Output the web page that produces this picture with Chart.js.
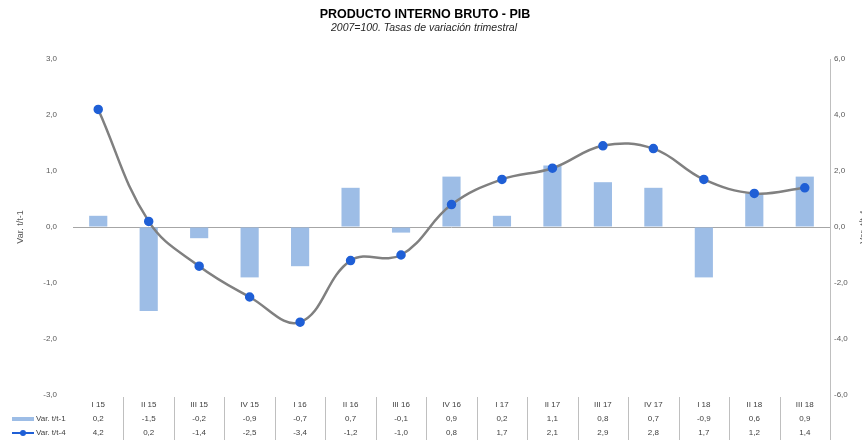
<!DOCTYPE html>
<html>
<head>
<meta charset="utf-8">
<script src="https://cdn.jsdelivr.net/npm/chart.js@4"></script>
<style>
  html, body { margin: 0; padding: 0; background: #fff; }
  #wrap { width: 862px; height: 440px; }
</style>
</head>
<body>
<div id="wrap"><canvas id="grafico-pib" width="862" height="440"></canvas></div>
<script>
// datos
const trimestres = ['I 15', 'II 15', 'III 15', 'IV 15', 'I 16', 'II 16', 'III 16', 'IV 16', 'I 17', 'II 17', 'III 17', 'IV 17', 'I 18', 'II 18', 'III 18'];
const varT1 = [0.2, -1.5, -0.2, -0.9, -0.7, 0.7, -0.1, 0.9, 0.2, 1.1, 0.8, 0.7, -0.9, 0.6, 0.9];
const varT4 = [4.2, 0.2, -1.4, -2.5, -3.4, -1.2, -1.0, 0.8, 1.7, 2.1, 2.9, 2.8, 1.7, 1.2, 1.4];
const titulo = 'PRODUCTO INTERNO BRUTO - PIB';
const subtitulo = '2007=100. Tasas de variación trimestral';
const nombres = ['Var. t/t-1', 'Var. t/t-4'];

const fuente = '"Liberation Sans", Arial, sans-serif';
const gris = '#595959';
const coma = (v) => v.toFixed(1).replace('.', ',');

const textosPlugin = {
    id: 'textos',
    afterDraw(chart) {
        const ctx = chart.ctx;
        const x = chart.scales.x;
        const area = chart.chartArea;
        ctx.save();

        // título y subtítulo
        ctx.fillStyle = '#000';
        ctx.textAlign = 'center';
        ctx.textBaseline = 'middle';
        ctx.font = 'bold 12.5px ' + fuente;
        ctx.fillText(titulo, 425, 15);
        ctx.font = 'italic 10.5px ' + fuente;
        ctx.fillStyle = '#262626';
        ctx.fillText(subtitulo, 424, 28);

        // títulos de ejes
        ctx.fillStyle = gris;
        ctx.font = '9px ' + fuente;
        ctx.save();
        ctx.translate(21, 227);
        ctx.rotate(-Math.PI / 2);
        ctx.fillText(nombres[0], 0, 0);
        ctx.restore();
        ctx.save();
        ctx.translate(864, 227);
        ctx.rotate(-Math.PI / 2);
        ctx.fillText(nombres[1], 0, 0);
        ctx.restore();

        // tabla de datos
        const filas = [405, 419, 433];
        const ancho = (x.getPixelForValue(1) - x.getPixelForValue(0));
        ctx.strokeStyle = '#bfbfbf';
        ctx.lineWidth = 1;
        for (let i = 1; i <= trimestres.length; i++) {
            const xb = Math.round(x.getPixelForValue(i) - ancho / 2) + 0.5;
            ctx.beginPath();
            ctx.moveTo(xb, i === trimestres.length ? area.top : 397);
            ctx.lineTo(xb, 440);
            ctx.stroke();
        }
        ctx.font = '8px ' + fuente;
        ctx.fillStyle = '#404040';
        trimestres.forEach((t, i) => {
            const xc = x.getPixelForValue(i);
            ctx.fillText(t, xc, filas[0]);
            ctx.fillText(coma(varT1[i]), xc, filas[1]);
            ctx.fillText(coma(varT4[i]), xc, filas[2]);
        });

        // leyenda dentro de la tabla
        ctx.fillStyle = '#9dbde6';
        ctx.fillRect(12, filas[1] - 2, 22, 4);
        ctx.strokeStyle = '#1f5fd6';
        ctx.lineWidth = 2;
        ctx.beginPath();
        ctx.moveTo(12, filas[2]);
        ctx.lineTo(34, filas[2]);
        ctx.stroke();
        ctx.fillStyle = '#1f5fd6';
        ctx.beginPath();
        ctx.arc(23, filas[2], 3, 0, Math.PI * 2);
        ctx.fill();
        ctx.textAlign = 'left';
        ctx.fillStyle = '#404040';
        ctx.fillText(nombres[0], 36, filas[1]);
        ctx.fillText(nombres[1], 36, filas[2]);

        ctx.restore();
    }
};

const ctx = document.getElementById('grafico-pib').getContext('2d');
const graficoPib = new Chart(ctx, {
    data: {
        labels: trimestres,
        datasets: [
            {
                type: 'line', label: nombres[1], data: varT4, yAxisID: 'y1', order: 0,
                borderColor: '#808080', borderWidth: 2.5, tension: 0.4,
                pointBackgroundColor: '#1f5fd6', pointBorderColor: '#1f5fd6', pointRadius: 3.5
            },
            {
                type: 'bar', label: nombres[0], data: varT1, yAxisID: 'y', order: 1,
                backgroundColor: '#9dbde6', barPercentage: 0.72, categoryPercentage: 0.5
            }
        ]
    },
    options: {
        responsive: false, animation: false,
        layout: { padding: { top: 59, bottom: 45, left: 0, right: 0 } },
        plugins: { legend: { display: false }, title: { display: false }, tooltip: { enabled: false } },
        scales: {
            x: { display: false, offset: true },
            y: {
                position: 'left', min: -3, max: 3,
                afterFit: (s) => { s.width = 73; },
                ticks: { stepSize: 1, padding: 16, color: gris, font: { family: fuente, size: 8 }, callback: coma },
                grid: { drawTicks: false, color: (c) => c.tick.value === 0 ? '#a6a6a6' : 'transparent' },
                border: { display: false }
            },
            y1: {
                position: 'right', min: -6, max: 6,
                afterFit: (s) => { s.width = 32; },
                ticks: { stepSize: 2, padding: 4, color: gris, font: { family: fuente, size: 8 }, callback: coma },
                grid: { display: false, drawTicks: false },
                border: { display: true, color: '#bfbfbf' }
            }
        }
    },
    plugins: [textosPlugin]
});
</script>
</body>
</html>
